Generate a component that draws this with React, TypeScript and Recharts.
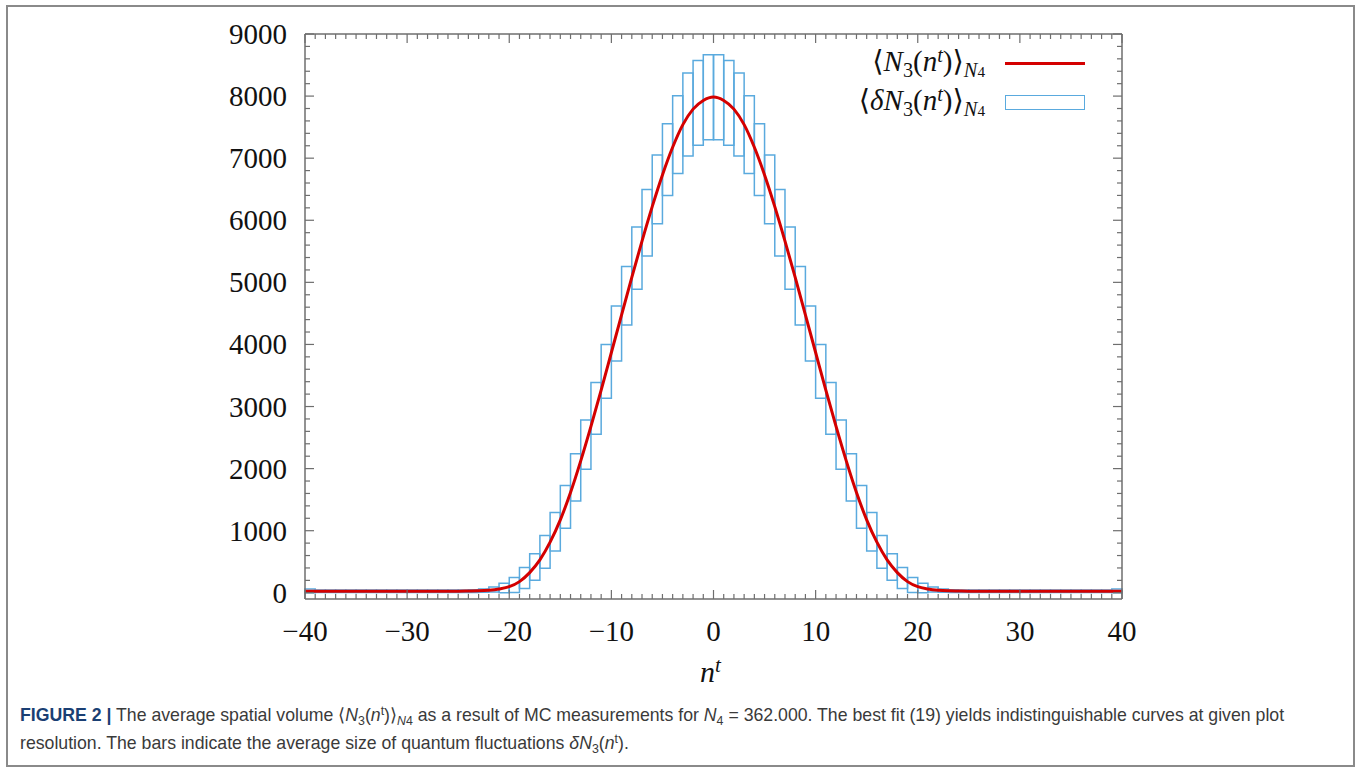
import React from 'react';
import { ComposedChart, Line, XAxis, YAxis, ReferenceArea, Legend } from 'recharts';

// n^t positions (slice index), -40 ... 40
const nt = Array.from({ length: 81 }, (_, i) => i - 40);

// <N3(n^t)>, n^t = -40 ... 40
const meanN3 = [
  25, 25, 25, 25, 25, 25, 25, 25, 25, 25, 25, 25, 25, 25, 25, 25,
  28, 32, 42, 62, 98, 180, 325, 530, 815, 1175, 1615, 2125, 2680, 3265,
  3870, 4475, 5080, 5665, 6220, 6730, 7175, 7540, 7790, 7930,
  7985,
  7930, 7790, 7540, 7175, 6730, 6220, 5665, 5080, 4475, 3870,
  3265, 2680, 2125, 1615, 1175, 815, 530, 325, 180, 98, 62, 42, 32, 28,
  25, 25, 25, 25, 25, 25, 25, 25, 25, 25, 25, 25, 25, 25, 25, 25,
];

// fluctuation boxes, one per slice interval [k, k+1], k = -40 ... 39
const boxStart = Array.from({ length: 80 }, (_, i) => i - 40);
const boxLow = [
  0, 5, 5, 5, 5, 5, 5, 5, 5, 5, 5, 5, 5, 5, 5, 5,
  6, 8, 12, 2, 5, 69, 204, 397, 675, 1040, 1480, 1990, 2555, 3135,
  3735, 4315, 4890, 5425, 5945, 6400, 6755, 7035, 7210, 7295,
  7295, 7210, 7035, 6755, 6400, 5945, 5425, 4890, 4315, 3735,
  3135, 2555, 1990, 1480, 1040, 675, 397, 204, 69, 5, 2, 12, 8, 6,
  5, 5, 5, 5, 5, 5, 5, 5, 5, 5, 5, 5, 5, 5, 5, 0,
];
const boxHigh = [
  60, 45, 45, 45, 45, 45, 45, 45, 45, 45, 45, 45, 45, 45, 45, 45,
  48, 62, 95, 152, 246, 408, 628, 922, 1293, 1728, 2238, 2785, 3385, 4000,
  4620, 5255, 5890, 6495, 7050, 7555, 8005, 8370, 8575, 8665,
  8665, 8575, 8370, 8005, 7555, 7050, 6495, 5890, 5255, 4620,
  4000, 3385, 2785, 2238, 1728, 1293, 922, 628, 408, 246, 152, 95, 62, 48,
  45, 45, 45, 45, 45, 45, 45, 45, 45, 45, 45, 45, 45, 45, 45, 60,
];

const xTicks = nt;
const yTicks = Array.from({ length: 46 }, (_, i) => i * 200);

const data = nt.map((n, i) => ({ n, mean: meanN3[i] }));

const AXIS = '#6e6e6e';
const RED = '#d40000';
const BLUE = '#5aaade';
const SERIF = '"Liberation Serif", "DejaVu Serif", serif';
const FS = 29;

const fmt = (v: number) => (v < 0 ? `\u2212${-v}` : `${v}`);

function BottomTick({ x, y, payload }: any) {
  const v = payload.value;
  const major = v % 10 === 0;
  return (
    <g>
      <line x1={x} x2={x} y1={y} y2={y - (major ? 9 : 5)} stroke={AXIS} strokeWidth={1.2} />
      {major && (
        <text x={x} y={y + 42} textAnchor="middle" fontFamily={SERIF} fontSize={FS} fill="#111">
          {fmt(v)}
        </text>
      )}
    </g>
  );
}

function TopTick({ x, y, payload }: any) {
  const major = payload.value % 10 === 0;
  return <line x1={x} x2={x} y1={y} y2={y + (major ? 9 : 5)} stroke={AXIS} strokeWidth={1.2} />;
}

function LeftTick({ x, y, payload }: any) {
  const v = payload.value;
  const major = v % 1000 === 0;
  return (
    <g>
      <line x1={x} x2={x + (major ? 9 : 5)} y1={y} y2={y} stroke={AXIS} strokeWidth={1.2} />
      {major && (
        <text x={x - 18} y={y + 10} textAnchor="end" fontFamily={SERIF} fontSize={FS} fill="#111">
          {v}
        </text>
      )}
    </g>
  );
}

function RightTick({ x, y, payload }: any) {
  const major = payload.value % 1000 === 0;
  return <line x1={x} x2={x - (major ? 9 : 5)} y1={y} y2={y} stroke={AXIS} strokeWidth={1.2} />;
}

const sub: React.CSSProperties = { fontSize: '0.7em', position: 'relative', top: '0.3em' };
const sup: React.CSSProperties = { fontSize: '0.7em', position: 'relative', top: '-0.45em' };

function MathLabel({ delta }: { delta?: boolean }) {
  return (
    <span>
      {'\u27E8'}
      <i>{delta ? '\u03B4' : ''}N</i>
      <span style={sub}>3</span>(<i>n</i>
      <span style={sup}>
        <i>t</i>
      </span>
      ){'\u27E9'}
      <span style={sub}>
        <i>N</i>
        <span style={{ fontSize: '0.75em' }}>4</span>
      </span>
    </span>
  );
}

function LegendBox() {
  const row: React.CSSProperties = { display: 'flex', alignItems: 'center', height: 39 };
  const txt: React.CSSProperties = { width: 205, textAlign: 'right', whiteSpace: 'nowrap' };
  return (
    <div style={{ fontFamily: SERIF, fontSize: FS, color: '#111', lineHeight: '39px' }}>
      <div style={row}>
        <div style={txt}>
          <MathLabel />
        </div>
        <div style={{ marginLeft: 20, width: 80, height: 3, background: RED }} />
      </div>
      <div style={row}>
        <div style={txt}>
          <MathLabel delta />
        </div>
        <div
          style={{ marginLeft: 20, width: 78, height: 13, border: `1.5px solid ${BLUE}`, boxSizing: 'content-box' }}
        />
      </div>
    </div>
  );
}

const capSub: React.CSSProperties = { fontSize: '0.7em', position: 'relative', top: '0.3em' };
const capSup: React.CSSProperties = { fontSize: '0.7em', position: 'relative', top: '-0.45em' };

export default function App() {
  return (
    <div style={{ position: 'absolute', left: 0, top: 0, width: 1360, height: 771, background: '#fff' }}>
      <div
        style={{
          position: 'absolute',
          left: 6,
          top: 5,
          width: 1345,
          height: 758,
          border: '2px solid #8a8a8a',
        }}
      />
      <div style={{ position: 'absolute', left: 0, top: 0 }}>
        <ComposedChart
          width={1360}
          height={700}
          data={data}
          margin={{ top: 24, right: 228, bottom: 61, left: 225 }}
        >
          <XAxis
            dataKey="n"
            type="number"
            domain={[-40, 40]}
            ticks={xTicks}
            interval={0}
            height={40}
            tickSize={0}
            tickMargin={0}
            tick={<BottomTick />}
            axisLine={{ stroke: AXIS, strokeWidth: 1.5 }}
          />
          <XAxis
            xAxisId="top"
            dataKey="n"
            orientation="top"
            type="number"
            domain={[-40, 40]}
            ticks={xTicks}
            interval={0}
            height={10}
            tickSize={0}
            tickMargin={0}
            tick={<TopTick />}
            axisLine={{ stroke: AXIS, strokeWidth: 1.5 }}
          />
          <YAxis
            type="number"
            domain={[-100, 9000]}
            ticks={yTicks}
            interval={0}
            width={80}
            tickSize={0}
            tickMargin={0}
            tick={<LeftTick />}
            axisLine={{ stroke: AXIS, strokeWidth: 1.5 }}
          />
          <YAxis
            yAxisId="right"
            orientation="right"
            type="number"
            domain={[-100, 9000]}
            ticks={yTicks}
            interval={0}
            width={10}
            tickSize={0}
            tickMargin={0}
            tick={<RightTick />}
            axisLine={{ stroke: AXIS, strokeWidth: 1.5 }}
          />
          {boxStart.map((k, i) => (
            <ReferenceArea
              key={k}
              x1={k}
              x2={k + 1}
              y1={boxLow[i]}
              y2={boxHigh[i]}
              fill="none"
              fillOpacity={0}
              stroke={BLUE}
              strokeWidth={1.5}
              strokeOpacity={1}
            />
          ))}
          {/* invisible copy so the mirrored top/right axes get a scale */}
          <Line
            xAxisId="top"
            yAxisId="right"
            dataKey="mean"
            stroke="none"
            strokeOpacity={0}
            dot={false}
            activeDot={false}
            legendType="none"
            isAnimationActive={false}
          />
          <Line
            type="monotone"
            dataKey="mean"
            stroke={RED}
            strokeWidth={3}
            dot={false}
            isAnimationActive={false}
          />
          <Legend
            layout="horizontal"
            verticalAlign="middle"
            align="center"
            content={<LegendBox />}
            wrapperStyle={{ position: 'absolute', left: 780, top: 44, width: 320 }}
          />
        </ComposedChart>
      </div>
      <div
        style={{
          position: 'absolute',
          left: 700,
          top: 655,
          fontFamily: SERIF,
          fontSize: 30,
          color: '#111',
          fontStyle: 'italic',
          whiteSpace: 'nowrap',
        }}
      >
        n<span style={{ fontSize: '0.7em', position: 'relative', top: '-0.5em' }}>t</span>
      </div>
      <div
        style={{
          position: 'absolute',
          left: 20,
          top: 702,
          fontFamily: '"Liberation Sans", Arial, sans-serif',
          fontSize: 17.7,
          lineHeight: '26px',
          color: '#3a3a3a',
          whiteSpace: 'nowrap',
        }}
      >
        <div>
          <b style={{ color: '#1a3f73' }}>FIGURE 2 |</b> The average spatial volume {'\u27E8'}
          <i>N</i>
          <span style={capSub}>3</span>(<i>n</i>
          <span style={capSup}>t</span>){'\u27E9'}
          <span style={{ fontSize: '0.7em', position: 'relative', top: '0.35em' }}>
            <i>N</i>4
          </span>{' '}
          as a result of MC measurements for <i>N</i>
          <span style={capSub}>4</span> = 362.000. The best fit (19) yields indistinguishable curves at given plot
        </div>
        <div>
          resolution. The bars indicate the average size of quantum fluctuations <i>{'\u03B4'}N</i>
          <span style={capSub}>3</span>(<i>n</i>
          <span style={capSup}>t</span>).
        </div>
      </div>
    </div>
  );
}
